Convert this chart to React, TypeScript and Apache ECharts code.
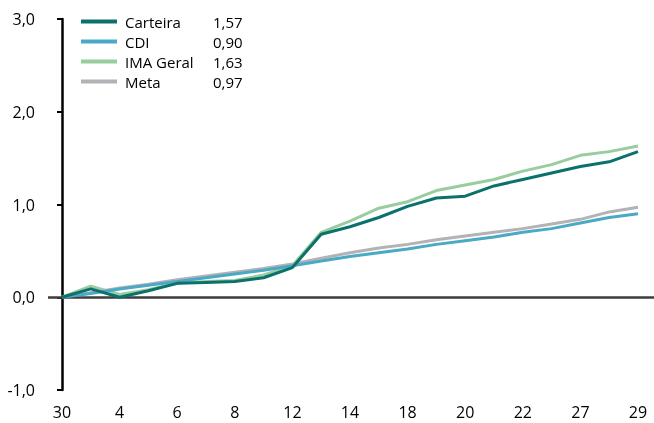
import React, { useEffect, useRef } from "react";
import * as echarts from "echarts";

const days = ["30", "1", "4", "5", "6", "7", "8", "11", "12", "13", "14", "15", "18", "19", "20", "21", "22", "26", "27", "28", "29"];
const labelIdx = [0, 2, 4, 6, 8, 10, 12, 14, 16, 18, 20];
const yTicks = [-1, 0, 1, 2, 3];

const carteira = [0, 0.09, 0.0, 0.07, 0.15, 0.16, 0.17, 0.21, 0.32, 0.68, 0.76, 0.86, 0.98, 1.07, 1.09, 1.2, 1.27, 1.34, 1.41, 1.46, 1.57];
const cdi = [0, 0.04, 0.09, 0.13, 0.17, 0.21, 0.25, 0.29, 0.34, 0.39, 0.44, 0.48, 0.52, 0.57, 0.61, 0.65, 0.7, 0.74, 0.8, 0.86, 0.9];
const ima = [0, 0.12, 0.03, 0.08, 0.15, 0.17, 0.18, 0.24, 0.34, 0.7, 0.82, 0.96, 1.03, 1.15, 1.21, 1.27, 1.36, 1.43, 1.53, 1.57, 1.63];
const meta = [0, 0.05, 0.1, 0.14, 0.19, 0.23, 0.27, 0.31, 0.36, 0.42, 0.48, 0.53, 0.57, 0.62, 0.66, 0.7, 0.74, 0.79, 0.84, 0.92, 0.97];

const names = ["Carteira", "CDI", "IMA Geral", "Meta"];
const totals = ["1,57", "0,90", "1,63", "0,97"];
const colors = ["#0b716c", "#4aa9c4", "#99cc9f", "#b2b2b7"];
const seriesValues = [carteira, cdi, ima, meta];

const FONT = "Open Sans";

export default function App() {
  const ref = useRef<HTMLDivElement>(null);
  useEffect(() => {
    if (!ref.current) return;
    const chart = echarts.init(ref.current, undefined, { renderer: "svg" });
    const drawOrder = [2, 3, 1, 0];
    chart.setOption({
      animation: false,
      textStyle: { fontFamily: FONT },
      grid: { left: 48, right: 0, top: 19, bottom: 33 },
      legend: {
        orient: "vertical",
        left: 76,
        top: 9,
        itemWidth: 36,
        itemHeight: 4,
        itemGap: 5,
        icon: "rect",
        data: names,
        formatter: (n: string) => `{a|${n}}{b|${totals[names.indexOf(n)]}}`,
        textStyle: {
          fontFamily: FONT,
          rich: {
            a: { fontFamily: FONT, fontSize: 15, color: "#000", width: 88, padding: [0, 0, 0, 3] },
            b: { fontFamily: FONT, fontSize: 15, color: "#000" },
          },
        },
      },
      xAxis: {
        type: "value",
        min: -0.486,
        max: 20.556,
        axisLine: { show: false, onZero: false },
        axisTick: { show: false },
        splitLine: { show: false },
        axisLabel: {
          customValues: labelIdx,
          formatter: (v: number) => days[Math.round(v)] ?? "",
          fontFamily: FONT,
          fontSize: 16,
          color: "#000",
          margin: 14,
        },
      },
      yAxis: {
        type: "value",
        min: -1,
        max: 3,
        interval: 1,
        offset: -9,
        axisLine: { show: true, lineStyle: { color: "#000", width: 2.5 } },
        axisTick: { show: true, length: 5, lineStyle: { color: "#000", width: 2 } },
        splitLine: { show: false },
        axisLabel: {
          customValues: yTicks,
          formatter: (v: number) => v.toFixed(1).replace(".", ","),
          fontFamily: FONT,
          fontSize: 16,
          color: "#000",
          margin: 22,
        },
      },
      series: drawOrder.map((k, j) => ({
        name: names[k],
        type: "line",
        data: seriesValues[k].map((v, i) => [i, v]),
        symbol: "none",
        lineStyle: { color: colors[k], width: 3 },
        itemStyle: { color: colors[k] },
        z: 3 + j,
        markLine:
          j === 0
            ? {
                silent: true,
                symbol: ["none", "none"],
                label: { show: false },
                lineStyle: { color: "#3d3d3d", width: 2.5, type: "solid" },
                data: [{ yAxis: 0 }],
              }
            : undefined,
      })),
    });
    return () => chart.dispose();
  }, []);
  return <div ref={ref} style={{ position: "fixed", left: 0, top: 0, width: 654, height: 423 }} />;
}
